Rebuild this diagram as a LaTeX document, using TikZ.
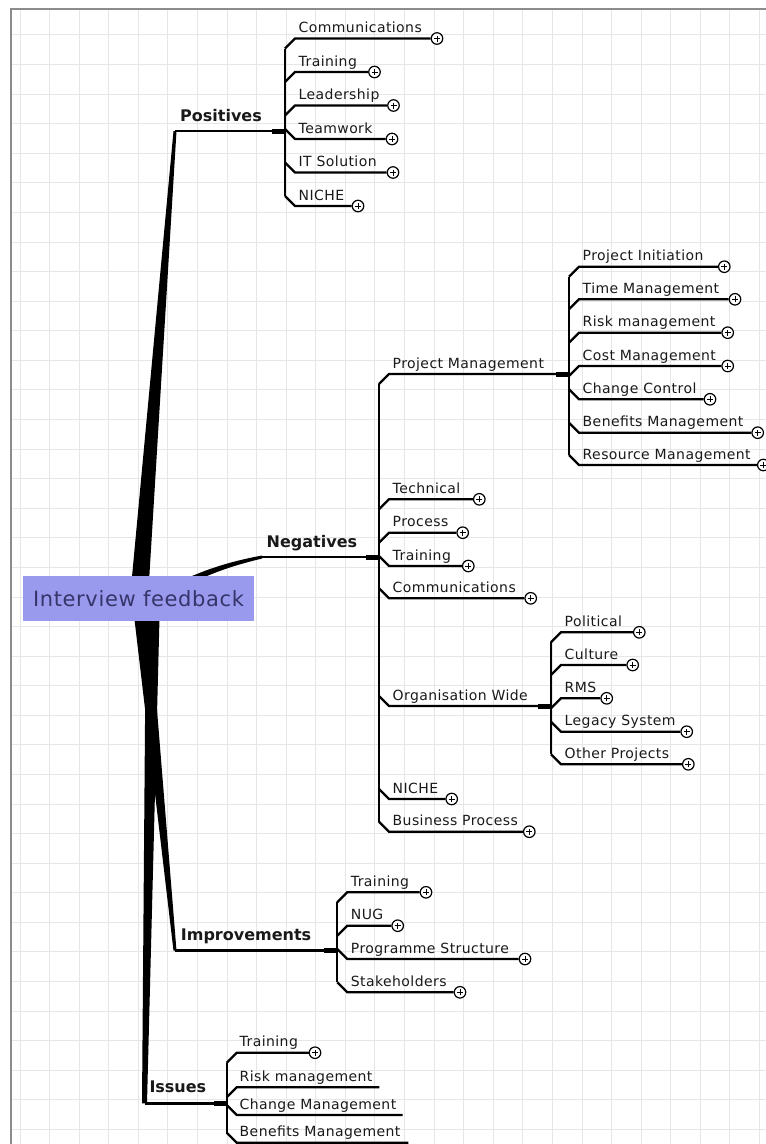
\documentclass[tikz,border=0pt]{standalone}
\usepackage{fontspec}
\setsansfont{DejaVu Sans}[LetterSpace=3]
\newfontfamily\branchfont{DejaVu Sans}
\usetikzlibrary{calc}
\definecolor{gridgray}{HTML}{E6E6E6}
\definecolor{framegray}{HTML}{8C8C8C}
\definecolor{rootblue}{HTML}{9999EE}
\definecolor{roottext}{HTML}{35356A}
\tikzset{
    leaf/.style={font=\sffamily\fontsize{14}{16}\selectfont, text=black!90, inner sep=0pt, anchor=base west},
    branch/.style={font=\branchfont\bfseries\fontsize{16}{18}\selectfont, text=black!90, inner sep=0pt, anchor=base west},
    root/.style={fill=rootblue, text=roottext, font=\sffamily\fontsize{21}{24}\selectfont,
        minimum width=231.6pt, minimum height=44.7pt, inner sep=0pt},
    xplus/.style={circle, draw, line width=1.2pt, fill=white, minimum size=11.5pt, inner sep=0pt,
        path picture={\draw[line width=1pt]
            ([xshift=-3pt]path picture bounding box.center) -- ([xshift=3pt]path picture bounding box.center)
            ([yshift=-3pt]path picture bounding box.center) -- ([yshift=3pt]path picture bounding box.center);}},
    twig/.style={line width=2.3pt},
    stem/.style={line width=1.8pt},
    limb/.style={line width=2.8pt},
    stub/.style={line width=5pt},
    trunk/.style={fill=black},
    gridline/.style={gridgray, line width=1pt},
}

\begin{document}
\begin{tikzpicture}[x=1pt,y=-1pt]
    \useasboundingbox (0,0) rectangle (766,1144);

    % squared paper
    \foreach \i in {0,...,25} \draw[gridline] ({20+29.58*\i},9) -- ({20+29.58*\i},1144);
    \foreach \j in {1,...,38} \draw[gridline] (11,{5.4+29.58*\j}) -- (766,{5.4+29.58*\j});
    \draw[framegray, line width=1.3pt] (11,1144) -- (11,9) -- (766,9);

    \coordinate (hub) at (138.5,598.3);
    \coordinate (pos-c) at (175,131);
    \coordinate (pos-b) at (285,131);
    \coordinate (neg-c) at (262,557);
    \coordinate (neg-b) at (379,557);
    \coordinate (imp-c) at (175,950.7);
    \coordinate (imp-b) at (337.3,950.7);
    \coordinate (iss-c) at (144.5,1103.3);
    \coordinate (iss-b) at (226.7,1103.3);

    % tapered main branches
    \fill[trunk] ($(hub)+(-8.5,0)$) -- ($(pos-c)+(-1.5,0)$) -- ($(pos-c)+(1.5,0)$) -- ($(hub)+(9.5,0)$) -- cycle;
    \fill[trunk] ($(hub)+(5,0)$) .. controls (180,582) and (205,566) .. ($(neg-c)+(0,-1.5)$)
        -- ($(neg-c)+(0,1.5)$) .. controls (215,570) and (195,580) .. ($(hub)+(5,10)$) -- cycle;
    \fill[trunk] ($(hub)+(-6.5,0)$) -- ($(imp-c)+(-1.5,0)$) -- ($(imp-c)+(1.5,0)$) -- ($(hub)+(9.5,0)$) -- cycle;
    \fill[trunk] ($(hub)+(7.5,0)$) -- ($(iss-c)+(-2.5,0)$) -- ($(iss-c)+(2.5,0)$) -- ($(hub)+(21.5,0)$) -- cycle;

    \draw[limb] (pos-c) -- (pos-b);
    \draw[limb] (neg-c) -- (neg-b);
    \draw[limb] (imp-c) -- (imp-b);
    \draw[limb] (iss-c) -- (iss-b);
    \foreach \b in {pos-b,neg-b,imp-b,iss-b} \draw[stub] ($(\b)+(-13,0)$) -- (\b);

    \node[root] (root) at (hub) {Interview feedback};
    \node[branch] (pos) at (180,121) {Positives};
    \node[branch] (neg) at (266.5,547) {Negatives};
    \node[branch] (imp) at (180.7,940) {Improvements};
    \node[branch] (iss) at (149.3,1092.7) {Issues};

    % Positives
    \foreach \y/\cx/\txt [count=\i] in {38.5/437/Communications,72/374.5/Training,105.5/393.5/Leadership,
        139/392/Teamwork,172.5/393/IT Solution,206/358/NICHE}{
        \pgfmathsetmacro\s{\y<131 ? 10 : -10}
        \coordinate (pos-\i-r) at (285,\y+\s);
        \coordinate (pos-\i-k) at (295,\y);
        \node[leaf] (pos-\i) at (298.5,\y-6) {\txt};
        \node[xplus] (pos-\i-x) at (\cx,\y) {};
        \draw[twig] (pos-\i-r) -- (pos-\i-k) -- (pos-\i-x);
    }
    \draw[stem] (pos-1-r) -- (pos-6-r);

    % Negatives
    \coordinate (pm-r) at (379,384);
    \coordinate (pm-k) at (389,374);
    \coordinate (pm-b) at (569,374);
    \node[leaf] (pm) at (392.5,368) {Project Management};
    \draw[twig] (pm-r) -- (pm-k) -- (pm-b);
    \draw[stub] ($(pm-b)+(-13,0)$) -- (pm-b);
    \coordinate (ow-r) at (379,696);
    \coordinate (ow-k) at (389,706);
    \coordinate (ow-b) at (551,706);
    \node[leaf] (ow) at (392.5,700) {Organisation Wide};
    \draw[twig] (ow-r) -- (ow-k) -- (ow-b);
    \draw[stub] ($(ow-b)+(-13,0)$) -- (ow-b);
    \foreach \y/\cx/\txt [count=\i] in {499.3/479.3/Technical,532.7/462.7/Process,566/468.3/Training,
        598.3/530.7/Communications,799/451.7/NICHE,831.7/529.3/Business Process}{
        \pgfmathsetmacro\s{\y<557 ? 10 : -10}
        \coordinate (neg-\i-r) at (379,\y+\s);
        \coordinate (neg-\i-k) at (389,\y);
        \node[leaf] (neg-\i) at (392.5,\y-6) {\txt};
        \node[xplus] (neg-\i-x) at (\cx,\y) {};
        \draw[twig] (neg-\i-r) -- (neg-\i-k) -- (neg-\i-x);
    }
    \draw[stem] (pm-r) -- (neg-6-r);

    % Project Management
    \foreach \y/\cx/\txt [count=\i] in {266.7/724.3/Project Initiation,299.3/735/Time Management,
        332.7/727.7/Risk management,366/727.7/Cost Management,399.3/710/Change Control,
        432.7/757.7/Benefits Management,465/763.3/Resource Management}{
        \pgfmathsetmacro\s{\y<374 ? 10 : -10}
        \coordinate (pm-\i-r) at (569,\y+\s);
        \coordinate (pm-\i-k) at (579,\y);
        \node[leaf] (pm-\i) at (582.5,\y-6) {\txt};
        \node[xplus] (pm-\i-x) at (\cx,\y) {};
        \draw[twig] (pm-\i-r) -- (pm-\i-k) -- (pm-\i-x);
    }
    \draw[stem] (pm-1-r) -- (pm-7-r);

    % Organisation Wide
    \foreach \y/\cx/\txt [count=\i] in {632.3/639.3/Political,665/632.7/Culture,698.3/606.7/RMS,
        731.7/686.7/Legacy System,764.3/688.3/Other Projects}{
        \pgfmathsetmacro\s{\y<706 ? 10 : -10}
        \coordinate (ow-\i-r) at (551,\y+\s);
        \coordinate (ow-\i-k) at (561,\y);
        \node[leaf] (ow-\i) at (564.5,\y-6) {\txt};
        \node[xplus] (ow-\i-x) at (\cx,\y) {};
        \draw[twig] (ow-\i-r) -- (ow-\i-k) -- (ow-\i-x);
    }
    \draw[stem] (ow-1-r) -- (ow-5-r);

    % Improvements
    \foreach \y/\cx/\txt [count=\i] in {892.3/426/Training,925.7/397.7/NUG,959/525/Programme Structure,
        992.3/460/Stakeholders}{
        \pgfmathsetmacro\s{\y<950.7 ? 10 : -10}
        \coordinate (imp-\i-r) at (337.3,\y+\s);
        \coordinate (imp-\i-k) at (347.3,\y);
        \node[leaf] (imp-\i) at (350.7,\y-6) {\txt};
        \node[xplus] (imp-\i-x) at (\cx,\y) {};
        \draw[twig] (imp-\i-r) -- (imp-\i-k) -- (imp-\i-x);
    }
    \draw[stem] (imp-1-r) -- (imp-4-r);

    % Issues
    \foreach \y/\ex/\txt [count=\i] in {1052.7/315/Training,1087.3/379.3/Risk management,
        1115/402.7/Change Management,1142.7/408.3/Benefits Management}{
        \pgfmathsetmacro\s{\y<1103.3 ? 10 : -10}
        \coordinate (iss-\i-r) at (226.7,\y+\s);
        \coordinate (iss-\i-k) at (236.7,\y);
        \coordinate (iss-\i-e) at (\ex,\y);
        \node[leaf] (iss-\i) at (239.5,\y-6) {\txt};
        \draw[twig] (iss-\i-r) -- (iss-\i-k) -- (iss-\i-e);
    }
    \node[xplus] (iss-1-x) at (iss-1-e) {};
    \draw[stem] (iss-1-r) -- (iss-4-r);

\end{tikzpicture}
\end{document}
